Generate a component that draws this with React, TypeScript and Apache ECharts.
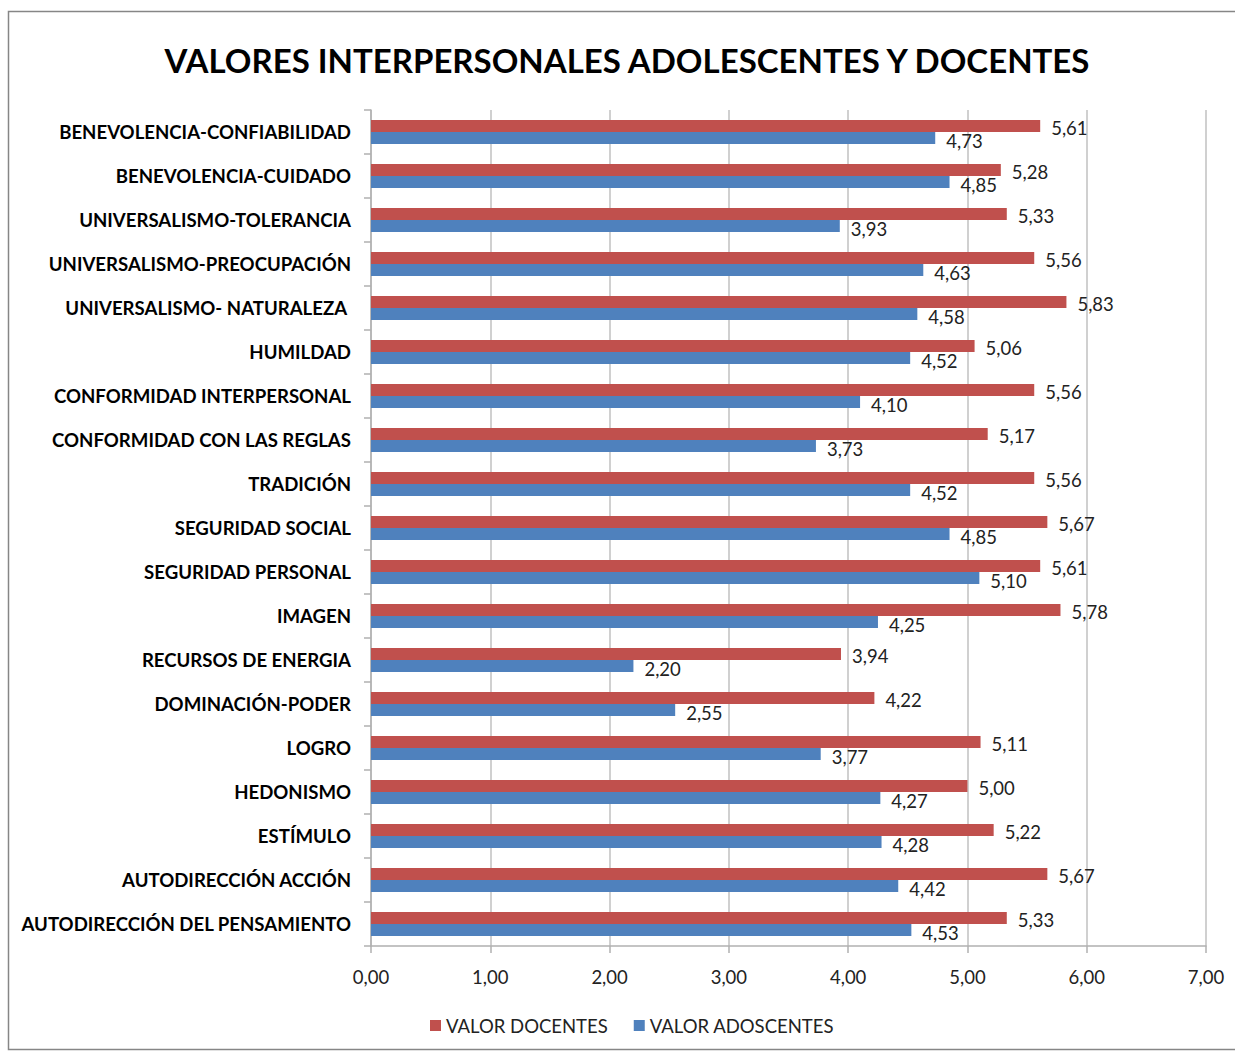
import React, { useEffect, useRef } from "react";
import * as echarts from "echarts";

const categories = [
  "BENEVOLENCIA-CONFIABILIDAD",
  "BENEVOLENCIA-CUIDADO",
  "UNIVERSALISMO-TOLERANCIA",
  "UNIVERSALISMO-PREOCUPACIÓN",
  "UNIVERSALISMO- NATURALEZA ",
  "HUMILDAD",
  "CONFORMIDAD INTERPERSONAL",
  "CONFORMIDAD CON LAS REGLAS",
  "TRADICIÓN",
  "SEGURIDAD SOCIAL",
  "SEGURIDAD PERSONAL",
  "IMAGEN",
  "RECURSOS DE ENERGIA",
  "DOMINACIÓN-PODER",
  "LOGRO",
  "HEDONISMO",
  "ESTÍMULO",
  "AUTODIRECCIÓN ACCIÓN",
  "AUTODIRECCIÓN DEL PENSAMIENTO",
];

const docentes = [5.61, 5.28, 5.33, 5.56, 5.83, 5.06, 5.56, 5.17, 5.56, 5.67, 5.61, 5.78, 3.94, 4.22, 5.11, 5.0, 5.22, 5.67, 5.33];
const adolescentes = [4.73, 4.85, 3.93, 4.63, 4.58, 4.52, 4.1, 3.73, 4.52, 4.85, 5.1, 4.25, 2.2, 2.55, 3.77, 4.27, 4.28, 4.42, 4.53];

const seriesNames = ["VALOR DOCENTES", "VALOR ADOSCENTES"];
const titleText = "VALORES INTERPERSONALES ADOLESCENTES Y DOCENTES";

const FONT = "Lato";
const fmt = (v: number) => v.toFixed(2).replace(".", ",");

export default function App() {
  const ref = useRef<HTMLDivElement>(null);
  useEffect(() => {
    if (!ref.current) return;
    const chart = echarts.init(ref.current, null, { renderer: "svg" });
    chart.setOption({
      animation: false,
      backgroundColor: "#ffffff",
      textStyle: { fontFamily: FONT },
      title: {
        text: titleText,
        left: 622,
        textAlign: "center",
        top: 38,
        textStyle: { fontFamily: FONT, fontWeight: "bold", fontSize: 33, color: "#000" },
      },
      graphic: [
        {
          type: "rect",
          shape: { x: 8.5, y: 11.5, width: 1240, height: 1038 },
          style: { fill: "none", stroke: "#868686", lineWidth: 1.5 },
          silent: true,
        },
      ],
      legend: {
        bottom: 12,
        left: 425,
        itemWidth: 11,
        itemHeight: 11,
        itemGap: 26,
        icon: "rect",
        textStyle: { fontFamily: FONT, fontSize: 18.5, color: "#222" },
        data: seriesNames,
      },
      grid: { left: 371, right: 29, top: 110, bottom: 106 },
      xAxis: {
        type: "value",
        min: 0,
        max: 7,
        interval: 1,
        axisLine: { show: true, lineStyle: { color: "#b0b0b0", width: 1.5 } },
        axisTick: { show: true, length: 7, lineStyle: { color: "#b0b0b0", width: 1.5 } },
        splitLine: { show: true, lineStyle: { color: "#c0c0c0", width: 1.5 } },
        axisLabel: {
          formatter: (v: number) => fmt(v),
          fontFamily: FONT,
          fontSize: 18.5,
          color: "#222",
          margin: 21,
        },
      },
      yAxis: {
        type: "category",
        inverse: true,
        data: categories,
        axisLine: { show: true, lineStyle: { color: "#b0b0b0", width: 1.5 } },
        axisTick: { show: true, length: 7, lineStyle: { color: "#b0b0b0", width: 1.5 } },
        axisLabel: {
          fontFamily: FONT,
          fontSize: 18.6,
          fontWeight: "bold",
          color: "#000",
          margin: 20,
        },
      },
      series: [
        {
          name: seriesNames[0],
          type: "bar",
          data: docentes,
          barWidth: 12,
          barGap: "0%",
          barCategoryGap: "45%",
          itemStyle: { color: "#C0504D" },
          label: {
            show: true,
            position: "right",
            distance: 11,
            offset: [0, 2],
            formatter: (p: any) => fmt(p.value),
            fontFamily: FONT,
            fontSize: 18.5,
            color: "#222",
          },
        },
        {
          name: seriesNames[1],
          type: "bar",
          data: adolescentes,
          barWidth: 12,
          barGap: "0%",
          itemStyle: { color: "#4F81BD" },
          label: {
            show: true,
            position: "right",
            distance: 11,
            offset: [0, 3],
            formatter: (p: any) => fmt(p.value),
            fontFamily: FONT,
            fontSize: 18.5,
            color: "#222",
          },
        },
      ],
    });
    return () => chart.dispose();
  }, []);
  return (
    <div
      ref={ref}
      style={{ position: "fixed", left: 0, top: 0, width: 1235, height: 1052 }}
    />
  );
}
